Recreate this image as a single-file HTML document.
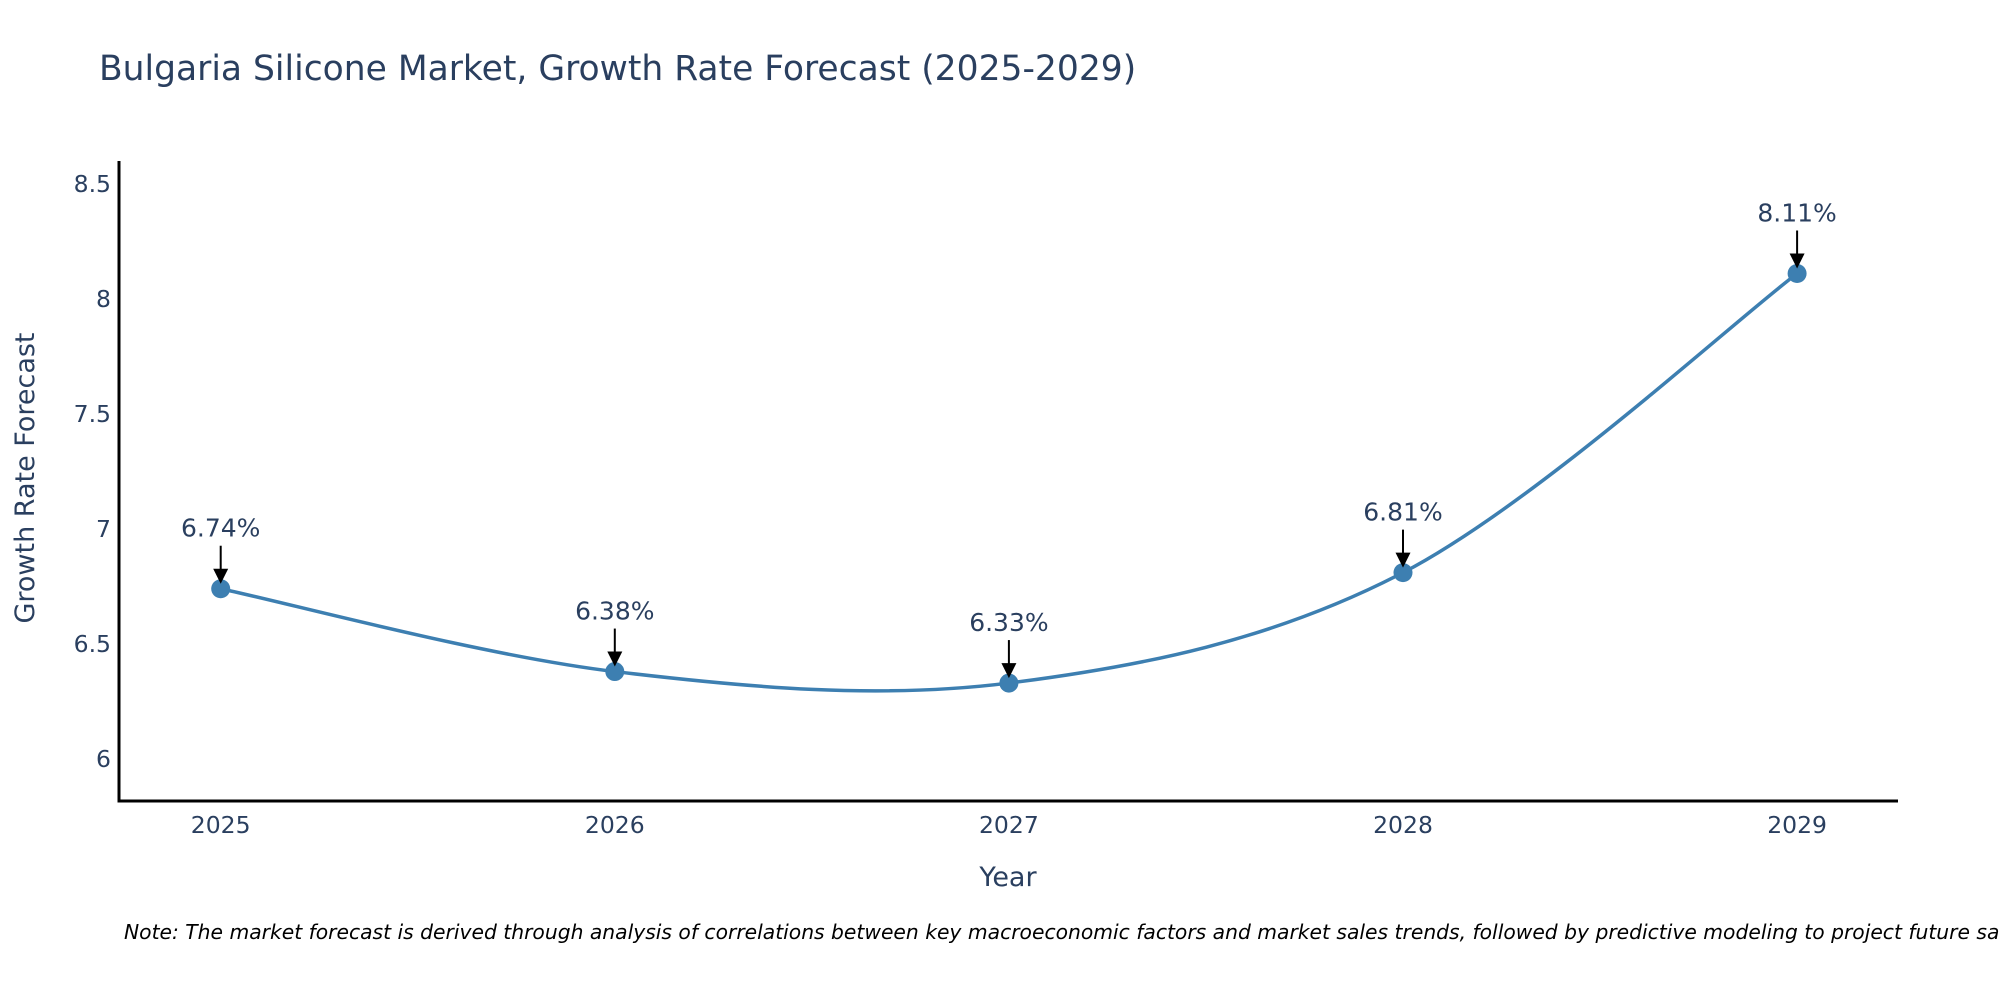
<!DOCTYPE html>
<html><head><meta charset="utf-8"><style>
html,body{margin:0;padding:0;background:#fff;}
svg{display:block;font-family:"DejaVu Sans","Liberation Sans",sans-serif;}
</style></head><body>
<svg id="chart" width="2000" height="1000" viewBox="0 0 2000 1000">
<text x="99" y="80" font-size="34.5" fill="#2a3f5f">Bulgaria Silicone Market, Growth Rate Forecast (2025-2029)</text>
<g id="yticks"></g>
<g id="xticks"></g>
<line x1="119" y1="161" x2="119" y2="802" stroke="#000" stroke-width="3"/>
<line x1="117.5" y1="801" x2="1898" y2="801" stroke="#000" stroke-width="3"/>
<text x="1008" y="886" font-size="27" fill="#2a3f5f" text-anchor="middle">Year</text>
<text transform="translate(34,478) rotate(-90)" font-size="27" fill="#2a3f5f" text-anchor="middle">Growth Rate Forecast</text>
<g id="series"></g>
<g id="annots"></g>
<text x="124" y="939" font-size="20.3" font-style="italic" fill="#000">Note: The market forecast is derived through analysis of correlations between key macroeconomic factors and market sales trends, followed by predictive modeling to project future sales.</text>
</svg>
<script>
const years = [2025, 2026, 2027, 2028, 2029];
const rates = [6.74, 6.38, 6.33, 6.81, 8.11];
const yTickValues = [6, 6.5, 7, 7.5, 8, 8.5];
const yTickLabels = ["6", "6.5", "7", "7.5", "8", "8.5"];

const NS = "http://www.w3.org/2000/svg";
function xScale(v){ return 220.7 + (v - 2025) * 394.1; }
function yScale(v){ return 759 - (v - 6) * 230.1; }
function mk(tag, attrs, parent){
  const e = document.createElementNS(NS, tag);
  for (const k in attrs) e.setAttribute(k, attrs[k]);
  parent.appendChild(e); return e;
}
const yt = document.getElementById('yticks');
yTickValues.forEach((v,i)=>{
  const t = mk('text',{x:111,y:yScale(v)+8,'font-size':23.5,fill:'#2a3f5f','text-anchor':'end'},yt);
  
  
  t.textContent = yTickLabels[i];
});
const xt = document.getElementById('xticks');
years.forEach(v=>{
  const t = mk('text',{x:xScale(v),y:833,'font-size':23.5,fill:'#2a3f5f','text-anchor':'middle'},xt);
  
  
  t.textContent = String(v);
});
const pts = years.map((y,i)=>[xScale(y), yScale(rates[i])]);
let d = `M${pts[0][0]},${pts[0][1]}`;
for (let i=0;i<pts.length-1;i++){
  const p0 = pts[Math.max(i-1,0)], p1 = pts[i], p2 = pts[i+1], p3 = pts[Math.min(i+2,pts.length-1)];
  const c1 = [p1[0]+(p2[0]-p0[0])/6, p1[1]+(p2[1]-p0[1])/6];
  const c2 = [p2[0]-(p3[0]-p1[0])/6, p2[1]-(p3[1]-p1[1])/6];
  d += ` C${c1[0]},${c1[1]} ${c2[0]},${c2[1]} ${p2[0]},${p2[1]}`;
}
const s = document.getElementById('series');
const line = mk('path',{d:d,fill:'none',stroke:'#3d7fb1','stroke-width':3.5},s);


const an = document.getElementById('annots');
pts.forEach((p,i)=>{
  const c = mk('circle',{cx:p[0],cy:p[1],r:9.5,fill:'#3d7fb1'},s);
  
  
  const l = mk('line',{x1:p[0],y1:p[1]-43,x2:p[0],y2:p[1]-14,stroke:'#000','stroke-width':2},an);
  
  
  const h = mk('polygon',{points:`${p[0]-7.5},${p[1]-20} ${p[0]+7.5},${p[1]-20} ${p[0]},${p[1]-5}`,fill:'#000'},an);
  
  
  const t = mk('text',{x:p[0],y:p[1]-52,'font-size':25,fill:'#2a3f5f','text-anchor':'middle'},an);
  
  
  t.textContent = rates[i].toFixed(2)+'%';
});
</script>
</body></html>
